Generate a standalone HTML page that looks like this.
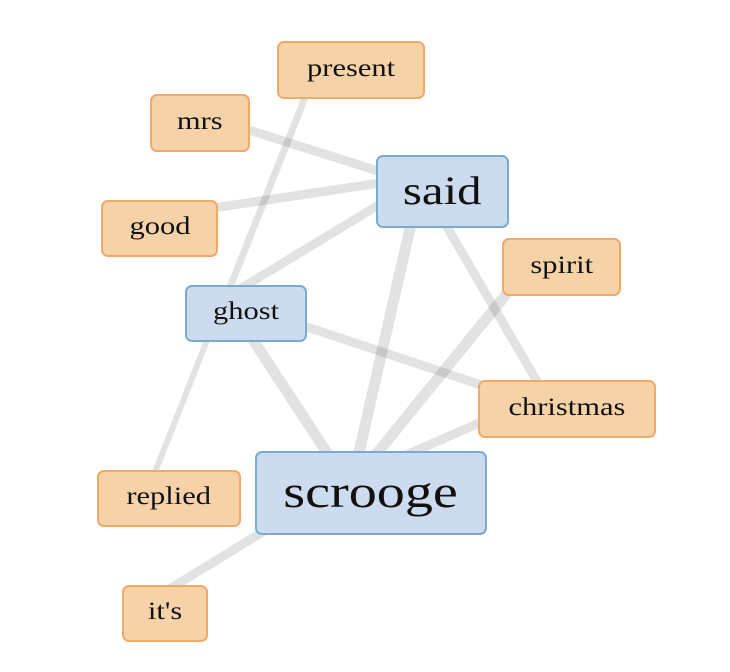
<!DOCTYPE html>
<html><head><style>
body{margin:0;background:#fff;width:730px;height:672px;overflow:hidden;position:relative;font-family:"Liberation Serif",serif}
svg{position:absolute;left:0;top:0}
.n{position:absolute;box-sizing:border-box;border-radius:7px;display:flex;align-items:center;justify-content:center;color:#111}
.n span{display:inline-block;transform:scaleX(1.22);margin-top:-3px}
.o{background:#f5d2a8;border:2px solid #efaa6a;font-size:25px}
.b{background:#ccdcee;border:2px solid #7aaad2}
</style></head><body>
<svg width="730" height="672"><g stroke="#000" stroke-opacity="0.115" stroke-linecap="butt">
<line x1="312" y1="80" x2="225" y2="300" stroke-width="7"/>
<line x1="230" y1="124" x2="400" y2="178" stroke-width="9"/>
<line x1="200" y1="210" x2="400" y2="180" stroke-width="9"/>
<line x1="400" y1="192" x2="230" y2="295" stroke-width="9"/>
<line x1="413" y1="215" x2="355" y2="470" stroke-width="11"/>
<line x1="440" y1="215" x2="545" y2="395" stroke-width="9"/>
<line x1="280" y1="318" x2="520" y2="398" stroke-width="9"/>
<line x1="240" y1="320" x2="335" y2="465" stroke-width="11"/>
<line x1="215" y1="320" x2="150" y2="485" stroke-width="6"/>
<line x1="530" y1="265" x2="365" y2="468" stroke-width="11"/>
<line x1="520" y1="405" x2="395" y2="460" stroke-width="9"/>
<line x1="290" y1="515" x2="160" y2="595" stroke-width="9"/>
</g></svg>
<div class="n o" style="left:277px;top:41px;width:148px;height:58px"><span>present</span></div>
<div class="n o" style="left:150px;top:94px;width:100px;height:58px"><span>mrs</span></div>
<div class="n b" style="left:376px;top:155px;width:133px;height:73px;font-size:40px"><span>said</span></div>
<div class="n o" style="left:101px;top:200px;width:117px;height:57px"><span>good</span></div>
<div class="n o" style="left:502px;top:238px;width:119px;height:58px"><span>spirit</span></div>
<div class="n b" style="left:185px;top:285px;width:122px;height:57px;font-size:25px"><span>ghost</span></div>
<div class="n o" style="left:478px;top:380px;width:178px;height:58px"><span>christmas</span></div>
<div class="n o" style="left:97px;top:470px;width:144px;height:57px"><span>replied</span></div>
<div class="n b" style="left:255px;top:451px;width:232px;height:84px;font-size:46px"><span>scrooge</span></div>
<div class="n o" style="left:122px;top:585px;width:86px;height:57px"><span>it's</span></div>
</body></html>
